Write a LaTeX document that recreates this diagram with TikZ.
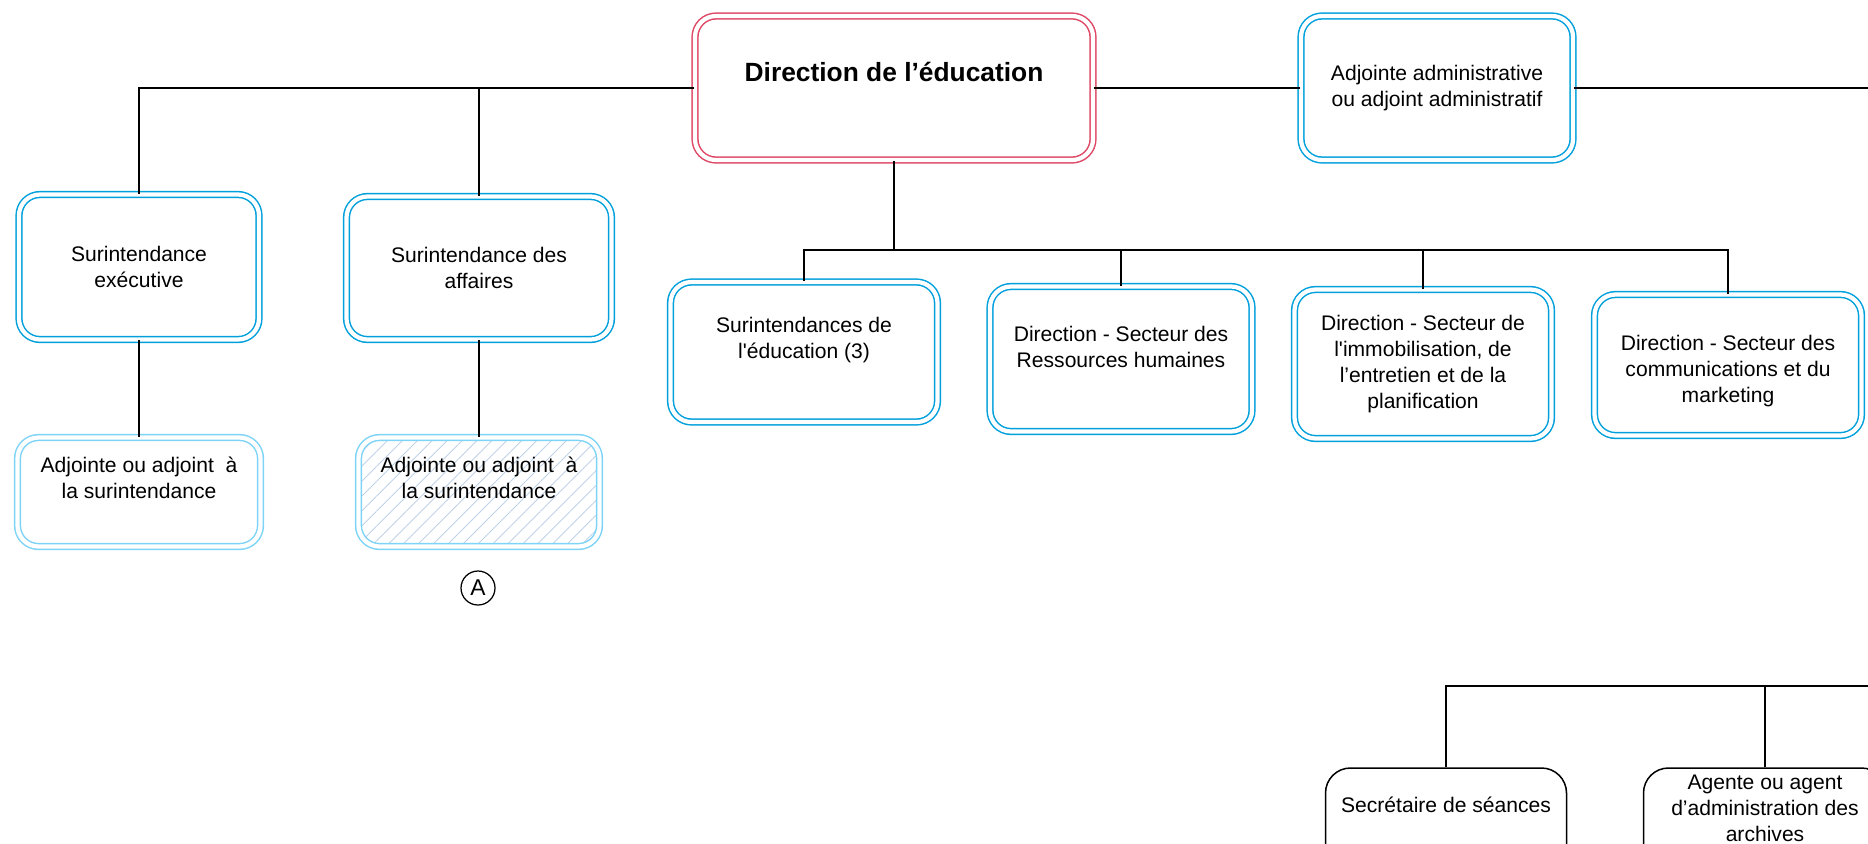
\documentclass[tikz,border=0pt]{standalone}
\usepackage{fontspec}
\setmainfont{Liberation Sans}
\usetikzlibrary{patterns.meta}
\definecolor{bleu}{RGB}{0,160,220}
\definecolor{bleuclair}{RGB}{125,212,246}
\definecolor{rouge}{RGB}{222,72,102}
\definecolor{hachure}{RGB}{192,210,232}
\newcommand{\pix}{0.02cm}
\tikzset{
	poste/.style={
		% The shape:
		shape=rectangle,rounded corners=0.42cm,
		% The border:
		draw=bleu,line width=0.03cm,
		double=white,double distance=0.085cm,
		% The text:
		align=center,font=\fontsize{12}{14.8}\selectfont,
	}}
\tikzset{
	direction/.style={
		poste,draw=rouge,
		font=\fontsize{15}{18}\selectfont\bfseries,
	}}
\tikzset{
	adjoint/.style={
		poste,draw=bleuclair,
	}}
\tikzset{
	agent/.style={
		% The shape:
		shape=rectangle,rounded corners=0.5cm,
		% The border:
		draw=black,line width=0.03cm,
		align=center,font=\fontsize{12}{14.8}\selectfont,
	}}
\tikzset{lien/.style={draw=black,line width=0.035cm}}

\begin{document}
\begin{tikzpicture}[x=0.02cm,y=-0.02cm]
	\useasboundingbox (0,0) rectangle (1868,843);
	\clip (0,0) rectangle (1868,843);
	% top row
	\node[direction,minimum width=398*\pix,minimum height=144*\pix,text depth=0.64cm] (dir) at (894,88) {Direction de l’éducation};
	\node[poste,minimum width=272*\pix,minimum height=144*\pix] (adm) at (1437,88) {Adjointe administrative\\ou adjoint administratif};
	% left side
	\node[poste,minimum width=240*\pix,minimum height=145*\pix] (sx) at (139,267) {Surintendance\\exécutive};
	\node[poste,minimum width=265*\pix,minimum height=143*\pix] (sa) at (479,268) {Surintendance des\\affaires};
	\node[adjoint,minimum width=243*\pix,minimum height=109*\pix,text depth=0.56cm] (ax) at (139,492) {Adjointe ou adjoint\ \ à\\la surintendance};
	\node[adjoint,minimum width=241*\pix,minimum height=109*\pix,text depth=0.56cm,
		pattern={Lines[angle=45,distance=6pt,line width=0.5pt]},pattern color=hachure] (ah) at (479,492) {Adjointe ou adjoint\ \ à\\la surintendance};
	\node[circle,draw,line width=0.025cm,minimum size=34*\pix,inner sep=0pt,font=\fontsize{13}{15}\selectfont] (A) at (478,588) {A};
	% directions
	\node[poste,minimum width=267*\pix,minimum height=140*\pix,text depth=0.57cm] (ed) at (804,352) {Surintendances de\\l\textquotesingle éducation (3)};
	\node[poste,minimum width=262*\pix,minimum height=145*\pix,text depth=0.48cm] (rh) at (1121,359) {Direction - Secteur des\\Ressources humaines};
	\node[poste,minimum width=257*\pix,minimum height=149*\pix] (im) at (1423,364) {Direction - Secteur de\\l\textquotesingle immobilisation, de\\l’entretien et de la\\planification};
	\node[poste,minimum width=267*\pix,minimum height=141*\pix,text height=1.59cm] (co) at (1728,365) {Direction - Secteur des\\communications et du\\marketing};
	% bottom row
	\node[agent,minimum width=241*\pix,minimum height=150*\pix,text depth=1.52cm] (se) at (1446,843) {Secrétaire de séances};
	\node[agent,minimum width=243*\pix,minimum height=150*\pix,text depth=1.4cm] (ag) at (1765,843) {Agente ou agent\\d’administration des\\archives};
	% links
	\coordinate (gauche) at (139,88);
	\coordinate (haut-d) at (1868,88);
	\coordinate (noeud) at (894,250);
	\coordinate (bas-d) at (1868,686);
	\draw[lien] (dir.west) -- (gauche) -- (sx.north);
	\draw[lien] (sa.north) -- (sa.north |- gauche);
	\draw[lien] (dir.east) -- (adm.west);
	\draw[lien] (adm.east) -- (haut-d);
	\draw[lien] (sx.south) -- (ax.north);
	\draw[lien] (sa.south) -- (ah.north);
	\draw[lien] (dir.south) -- (noeud);
	\draw[lien] (ed.north) -- (ed.north |- noeud) -- (co.north |- noeud) -- (co.north);
	\draw[lien] (rh.north) -- (rh.north |- noeud);
	\draw[lien] (im.north) -- (im.north |- noeud);
	\draw[lien] (se.north) -- (se.north |- bas-d) -- (bas-d);
	\draw[lien] (ag.north) -- (ag.north |- bas-d);
\end{tikzpicture}
\end{document}
